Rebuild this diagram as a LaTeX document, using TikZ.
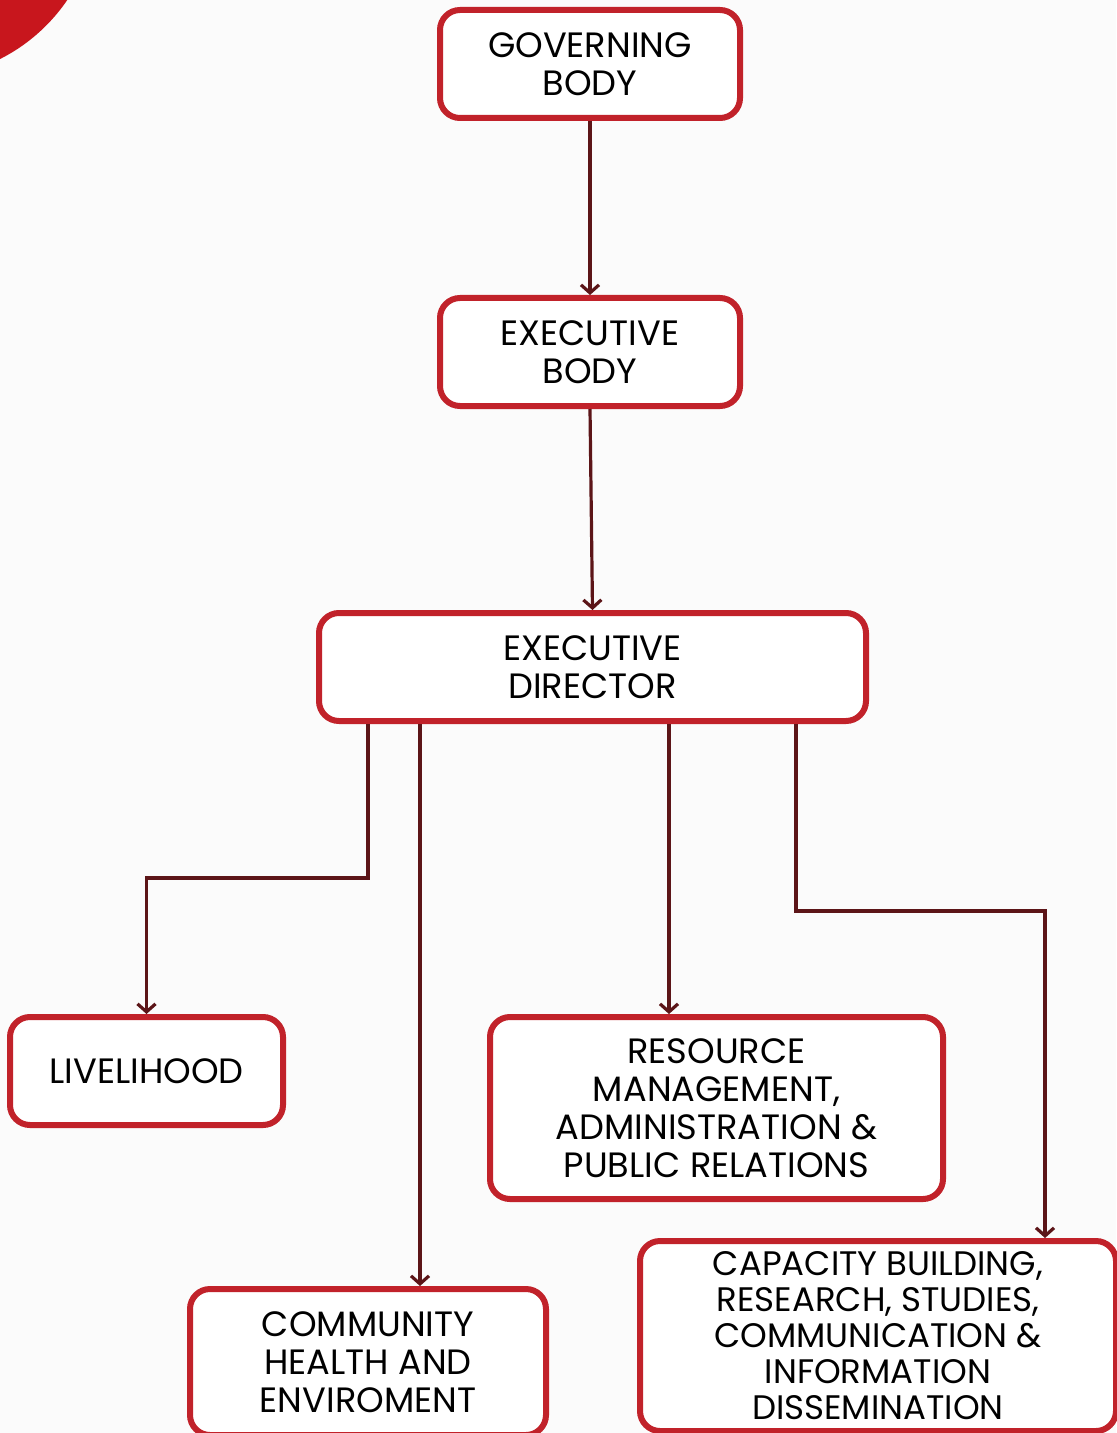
\documentclass[tikz,border=0pt]{standalone}
\usepackage{fontspec}
\setmainfont{Poppins}
\usetikzlibrary{arrows.meta}
\definecolor{boxred}{HTML}{C1222A}
\definecolor{linkred}{HTML}{5C1518}
\definecolor{blobred}{HTML}{C8161D}
\definecolor{paper}{HTML}{FBFBFB}
\begin{document}
\begin{tikzpicture}[x=0.5pt,y=-0.5pt]
  \tikzstyle{unit}=[draw=boxred, line width=3pt, rounded corners=10pt, fill=white,
    align=center, font=\fontsize{17.6}{19}\selectfont, inner sep=2pt]
  \tikzstyle{link}=[draw=linkred, line width=1.6pt, -{Straight Barb[length=4pt,width=9pt]}]
  \useasboundingbox (0,0) rectangle (1116,1433);
  \fill [paper] (0,0) rectangle (1116,1433);
  \fill [blobred] (-80,-100) circle (178);
  \node [unit, minimum width=150pt, minimum height=54pt] (gov) at (590,64) {GOVERNING\\BODY};
  \node [unit, minimum width=150pt, minimum height=54pt] (ebody) at (590,352) {EXECUTIVE\\BODY};
  \node [unit, minimum width=273.5pt, minimum height=54pt] (dir) at (592.5,667) {EXECUTIVE\\DIRECTOR};
  \node [unit, minimum width=136.5pt, minimum height=54pt] (lvh) at (146.5,1071) {LIVELIHOOD};
  \node [unit, minimum width=226.5pt, minimum height=91pt] (res) at (716.5,1108) {RESOURCE\\MANAGEMENT,\\ADMINISTRATION \&\\PUBLIC RELATIONS};
  \node [unit, minimum width=178pt, minimum height=73pt] (com) at (368,1362) {COMMUNITY\\HEALTH AND\\ENVIROMENT};
  \node [unit, minimum width=238pt, minimum height=95pt, font=\fontsize{17}{18}\selectfont] (cap) at (878,1336) {CAPACITY BUILDING,\\RESEARCH, STUDIES,\\COMMUNICATION \&\\INFORMATION\\DISSEMINATION};
  \coordinate (c1) at (368,0);
  \coordinate (c2) at (420,0);
  \coordinate (c3) at (669,0);
  \coordinate (c4) at (796,0);
  \coordinate (c5) at (1045,0);
  \draw [link] (gov.south) -- (ebody.north);
  \draw [link] (ebody.south) -- (dir.north);
  \draw [link] (dir.south -| c1) -- (368,878) -| (lvh.north);
  \draw [link] (dir.south -| c2) -- (com.north -| c2);
  \draw [link] (dir.south -| c3) -- (res.north -| c3);
  \draw [link] (dir.south -| c4) -- (796,911) -| (cap.north -| c5);
\end{tikzpicture}
\end{document}
